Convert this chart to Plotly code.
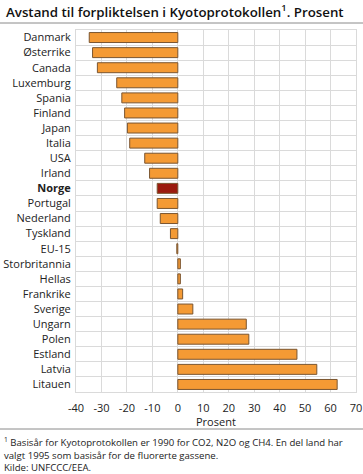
import plotly.graph_objects as go

countries = ["Danmark", "Østerrike", "Canada", "Luxemburg", "Spania", "Finland", "Japan",
             "Italia", "USA", "Irland", "Norge", "Portugal", "Nederland", "Tyskland", "EU-15",
             "Storbritannia", "Hellas", "Frankrike", "Sverige", "Ungarn", "Polen", "Estland",
             "Latvia", "Litauen"]
values = [-34.8, -33.5, -31.6, -24.0, -22.0, -20.9, -19.8, -18.9, -13.0, -11.1, -8.1, -8.1,
          -6.9, -2.9, -0.4, 1.0, 1.0, 1.9, 5.9, 26.9, 27.9, 46.8, 54.6, 62.6]
highlight = "Norge"
x_ticks = [-40, -30, -20, -10, 0, 10, 20, 30, 40, 50, 60, 70]

orange = "#F49A34"
red = "#9B1A0E"
colors = [red if c == highlight else orange for c in countries]
ticktext = [f"<b>{c}</b>" if c == highlight else c for c in countries]

FONT = "Open Sans"
W, H = 363, 474
L, R, T, B = 76, 7, 30, 82
pw, ph = W - L - R, H - T - B

fig = go.Figure(go.Bar(
    x=values, y=countries, orientation="h",
    marker=dict(color=colors, line=dict(color="#7a5530", width=1)),
    width=0.66, hoverinfo="x+y",
))

fig.update_layout(
    width=W, height=H,
    margin=dict(l=L, r=R, t=T, b=B, autoexpand=False),
    paper_bgcolor="white", plot_bgcolor="white",
    showlegend=False,
    font=dict(family=FONT, size=11, color="#222"),
    xaxis=dict(range=[-40, 70], tickvals=x_ticks, ticktext=[str(v) for v in x_ticks],
               showgrid=True, gridcolor="#dadada", gridwidth=1, zeroline=False,
               showline=True, linecolor="#dadada", mirror=True, ticks="",
               ticklabelstandoff=6, automargin=False, ticklabeloverflow="allow",
               tickfont=dict(size=11, family=FONT, color="#222"), fixedrange=True),
    yaxis=dict(categoryorder="array", categoryarray=countries, autorange="reversed",
               tickvals=countries, ticktext=ticktext, tickson="boundaries",
               showgrid=True, gridcolor="#dadada", gridwidth=1,
               showline=True, linecolor="#dadada", mirror=True, ticks="",
               ticklabelstandoff=2, automargin=False,
               tickfont=dict(size=11, family=FONT, color="#222"), fixedrange=True),
)

def py(pix):
    return 1 - (pix - T) / ph

def px(pix):
    return (pix - L) / pw

fig.add_annotation(text="Avstand til forpliktelsen i Kyotoprotokollen<sup>1</sup>. Prosent",
                   xref="paper", yref="paper", x=px(4), y=py(11), xanchor="left", yanchor="middle",
                   showarrow=False, font=dict(family=FONT, size=13.3, color="#111", weight=600))
fig.add_shape(type="line", xref="paper", yref="paper", x0=px(0), x1=px(363), y0=py(23), y1=py(23),
              line=dict(color="#8a8a8a", width=1))
fig.add_annotation(text="Prosent", xref="paper", yref="paper", x=0.5, y=py(422),
                   xanchor="center", yanchor="middle", showarrow=False,
                   font=dict(family=FONT, size=11, color="#222"))
fig.add_shape(type="line", xref="paper", yref="paper", x0=px(0), x1=px(363), y0=py(429), y1=py(429),
              line=dict(color="#8a8a8a", width=1))
foot = ("<sup>1</sup> Basisår for Kyotoprotokollen er 1990 for CO2, N2O og CH4. En del land har<br>"
        "valgt 1995 som basisår for de fluorerte gassene.<br>Kilde: UNFCCC/EEA.")
fig.add_annotation(text=foot, xref="paper", yref="paper", x=px(2), y=py(433),
                   xanchor="left", yanchor="top", align="left", showarrow=False,
                   font=dict(family=FONT, size=9.6, color="#222"))

fig.write_html("out.html", config={"displayModeBar": False},
               post_script="document.body.style.margin='0';document.body.style.overflow='hidden';")
